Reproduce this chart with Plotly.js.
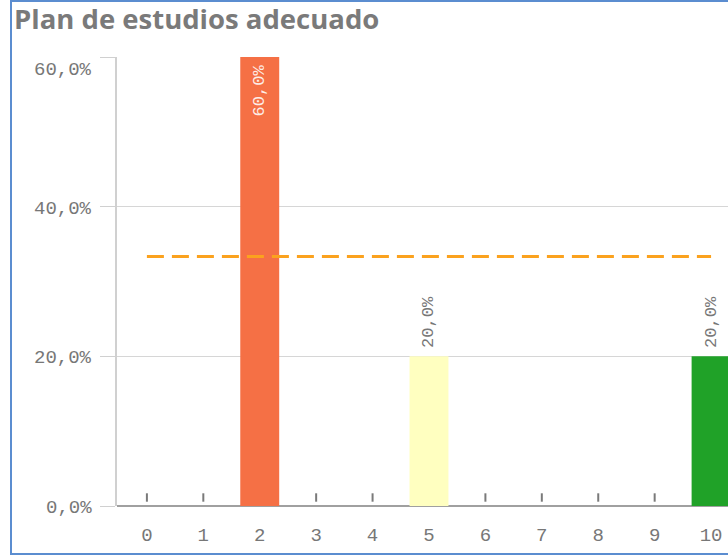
<!DOCTYPE html>
<html>
<head>
<meta charset="utf-8">
<script src="https://cdn.plot.ly/plotly-3.0.1.min.js"></script>
<style>
  html, body { margin: 0; padding: 0; overflow: hidden; background: #fff; }
  #chart { width: 728px; height: 555px; }
  #frame { position: absolute; left: 10px; top: 0; width: 740px; height: 555px;
           box-sizing: border-box; border: 2px solid #5b8dd0; pointer-events: none; }
</style>
</head>
<body>
<div id="chart"></div>
<div id="frame"></div>
<script>
// ---- data ----
const chartTitle = "Plan de estudios adecuado";
const categories = ["0", "1", "2", "3", "4", "5", "6", "7", "8", "9", "10"];
const shares = [0, 0, 60, 0, 0, 20, 0, 0, 0, 0, 20];          // % of answers
const barColors = ["#d73027", "#e8553a", "#f57045", "#fb9a5c", "#fdc980", "#ffffc0",
                   "#d9ef8b", "#a6d96a", "#66bd63", "#3aa83f", "#20a228"];
const referenceValue = [33.33];                                  // dashed reference line (%)
const yTickVals = [0, 20, 40, 60];

const fmt = v => v.toFixed(1).replace(".", ",") + "%";
const monoFont = "Liberation Mono, DejaVu Sans Mono, monospace";
const pad = "<span style='font-size:9px'>\u00a0</span>";

const nonZeroCats = categories.filter((c, i) => shares[i] !== 0);
const nonZeroVals = shares.filter(v => v !== 0);
const nonZeroCols = barColors.filter((c, i) => shares[i] !== 0);
const zeroCats = categories.filter((c, i) => shares[i] === 0);
const zeroVals = shares.filter(v => v === 0);
const yMax = Math.max(...yTickVals);
const isInside = v => v >= 40;

const bars = {
  type: "bar",
  x: nonZeroCats,
  y: nonZeroVals,
  width: 0.69,
  marker: { color: nonZeroCols },
  text: nonZeroVals.map(v => isInside(v) ? fmt(v) + pad : pad + fmt(v)),
  textposition: nonZeroVals.map(v => isInside(v) ? "inside" : "outside"),
  insidetextanchor: "end",
  textangle: -90,
  constraintext: "none",
  insidetextfont: { family: monoFont, size: 17, color: "rgba(255,255,255,0.88)" },
  outsidetextfont: { family: monoFont, size: 17, color: "#777" },
  cliponaxis: false,
  hoverinfo: "skip"
};

// tiny markers for zero-valued categories
const zeroMarks = {
  type: "scatter",
  mode: "markers",
  x: zeroCats,
  y: zeroVals,
  yaxis: "y2",
  marker: { symbol: "line-ns", size: 6, line: { width: 2, color: "#7a7a7a" } },
  hoverinfo: "skip"
};

const refLine = {
  type: "scatter",
  mode: "lines",
  x: [categories[0], categories[categories.length - 1]],
  y: [referenceValue[0], referenceValue[0]],
  line: { color: "#fba21e", width: 3, dash: "17px,8px" },
  hoverinfo: "skip"
};

const plotH = 555 - 57 - 49;
const markOffset = 8.5 / plotH * yMax;

const annotations = yTickVals.map(v => ({
  xref: "paper", yref: "y", x: 0, y: v,
  xanchor: "right", yanchor: "middle",
  xshift: -23, yshift: v === yMax ? -13 : -2,
  text: fmt(v), showarrow: false,
  font: { family: monoFont, size: 19, color: "#777" }
}));

const layout = {
  width: 728, height: 555,
  margin: { l: 117, r: 0, t: 57, b: 49 },
  paper_bgcolor: "#fff", plot_bgcolor: "#fff",
  showlegend: false,
  title: {
    text: "<b>" + chartTitle + "</b>",
    xref: "container", yref: "container",
    x: 14 / 728, xanchor: "left",
    y: 1 - 19 / 555, yanchor: "middle",
    font: { family: "Open Sans, sans-serif", size: 27.5, color: "#7a7a7a" }
  },
  xaxis: {
    type: "category",
    categoryorder: "array",
    categoryarray: categories,
    range: [-0.53, 10.3],
    showgrid: false, zeroline: false, showline: false,
    ticks: "", ticklabelstandoff: 15,
    tickfont: { family: monoFont, size: 19, color: "#777" },
    fixedrange: true
  },
  yaxis: {
    range: [0, yMax],
    tickvals: yTickVals,
    showticklabels: false,
    ticks: "outside", ticklen: 15, tickcolor: "#d0d0d0", tickwidth: 1,
    showgrid: true, gridcolor: "#d6d6d6", gridwidth: 1,
    showline: true, linecolor: "#d0d0d0", linewidth: 2,
    zeroline: true, zerolinecolor: "#a0a0a0", zerolinewidth: 2,
    fixedrange: true
  },
  yaxis2: {
    overlaying: "y",
    range: [-markOffset, yMax - markOffset],
    visible: false,
    fixedrange: true
  },
  annotations: annotations
};

Plotly.newPlot("chart", [bars, zeroMarks, refLine], layout, { displayModeBar: false, staticPlot: true });
</script>
</body>
</html>
